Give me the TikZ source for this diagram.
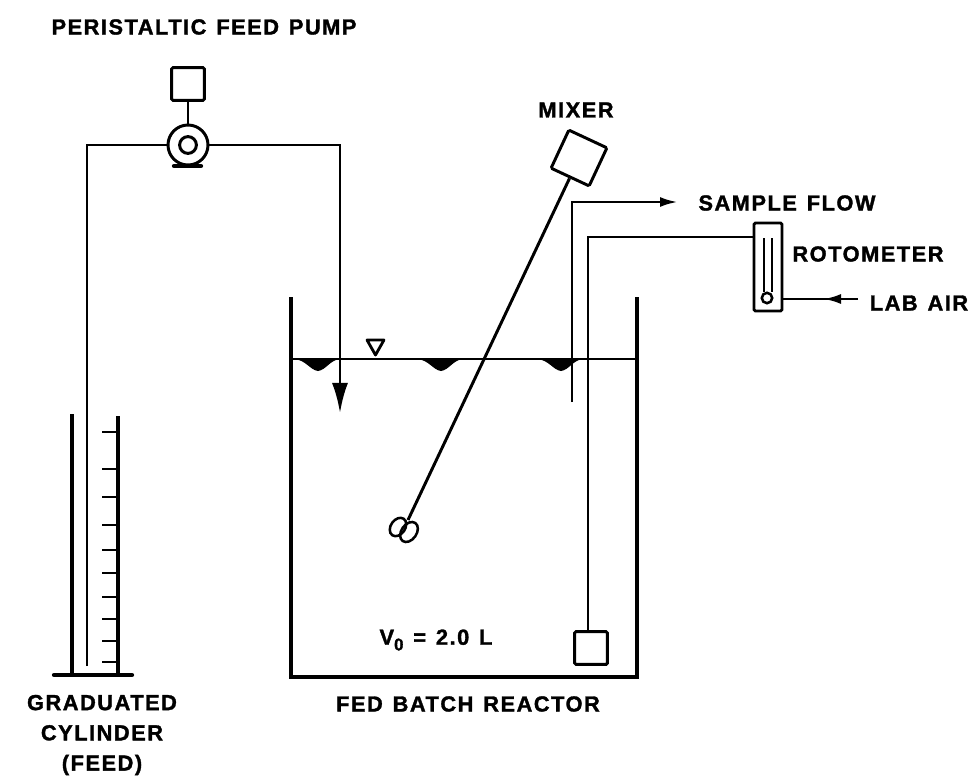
\documentclass[tikz,border=0pt]{standalone}
\usepackage{fontspec}
\setmainfont{Liberation Sans}[LetterSpace=7,WordSpace=1.3,BoldFeatures={FakeBold=1.5}]
\usetikzlibrary{arrows.meta,calc,positioning,shapes.geometric}

\begin{document}
\begin{tikzpicture}[
        x=0.025cm,
        y=-0.025cm,
        wire/.style={line width=2.1pt},
        wall/.style={line width=3pt},
        unitbox/.style={draw, line width=2.1pt, rounded corners=1pt, minimum size=0.82cm, inner sep=0pt},
        blade/.style={draw, ellipse, line width=1.8pt, inner sep=0pt, rotate=-35},
        label/.style={font=\bfseries\fontsize{15.5}{21.5}\selectfont, inner sep=0pt, align=center},
        bigtip/.tip={Latex[length=0.75cm,width=0.4cm]},
        smalltip/.tip={Latex[length=0.45cm,width=0.25cm]}
    ]
        \useasboundingbox (0,0) rectangle (973,776);

        % labels
        \node[label] (pumplabel) at (204,27) {PERISTALTIC FEED PUMP};
        \node[label] (mixerlabel) at (576,110) {MIXER};
        \node[label] (samplelabel) at (787,203) {SAMPLE FLOW};
        \node[label] (rotolabel) at (868,254) {ROTOMETER};
        \node[label] (airlabel) at (919,303) {LAB AIR};
        \node[label] (volume) at (436,640) {V\raisebox{-4pt}{\fontsize{12}{12}\selectfont 0} = 2.0 L};
        \node[label] (reactorlabel) at (468,704) {FED BATCH REACTOR};
        \node[label] (cylinderlabel) at (102,735) {GRADUATED\\CYLINDER\\(FEED)};

        % feed pump
        \node[draw, circle, line width=2.1pt, minimum size=1cm, inner sep=0pt] (pump) at (188,145) {};
        \node[draw, circle, line width=2.1pt, minimum size=0.42cm, inner sep=0pt] (pumpcore) at (pump.center) {};
        \node[unitbox] (motor) at (188,84) {};
        \draw[wire] (motor) -- (pump);
        \draw[wall, line cap=round] (174,166) -- (201,166);

        % cylinder
        \draw[wall] (72,414) -- (72,675);
        \draw[wall] (118,416) -- (118,675);
        \draw[wall, line cap=round] (54,675) -- (132,675);
        \foreach \tick in {432,469,497,525,550,573,597,619,641,662}
            \draw[wire] (102,\tick) -- (118,\tick);

        % feed line
        \coordinate (feedend) at (87,666);
        \coordinate (feedin) at (340,413);
        \draw[wire] (feedend) |- (pump);
        \draw[wire, -bigtip] (pump) -| (feedin);

        % reactor
        \draw[wall] (291,297) -- (291,677) -- (637,677) -- (637,297);
        \draw[wire] (291,359) -- (637,359);
        \foreach \dip in {318,441,561}
            \fill (\dip-24,359) .. controls (\dip-12,360) and (\dip-8,370) .. (\dip,371)
                .. controls (\dip+8,370) and (\dip+12,360) .. (\dip+22,359) -- cycle;
        \draw[line width=2pt, line join=round] (367,340) -- (384,340) -- (375.5,355) -- cycle;

        % mixer
        \node[unitbox, minimum size=1.05cm, rotate=-25] (mixer) at (579,158) {};
        \node[blade, minimum width=0.36cm, minimum height=0.5cm] (bladea) at (398,527) {};
        \node[blade, minimum width=0.38cm, minimum height=0.55cm] (bladeb) at (409,532) {};
        \coordinate (shaftend) at (408,520);
        \draw[wire] (mixer.south) -- (shaftend);

        % sample and air lines
        \coordinate (samplein) at (572,402);
        \coordinate (sampleout) at (678,202);
        \draw[wire, -smalltip] (samplein) |- (sampleout);
        \node[unitbox] (sparger) at (591,648) {};
        \node[draw, line width=2.1pt, rounded corners=1pt, minimum width=0.7cm, minimum height=2.2cm, inner sep=0pt] (rotameter) at (768,267) {};
        \node[draw, circle, line width=1.8pt, minimum size=0.26cm, inner sep=0pt] (bulb) at (767,298) {};
        \draw[line width=1.6pt] (764,238) -- (764,292);
        \draw[line width=1.6pt] (772,238) -- (772,292);
        \coordinate (spargerin) at (588,631);
        \coordinate (airbend) at (588,237);
        \draw[wire] (spargerin) -- (airbend) -- (rotameter.west |- airbend);
        \coordinate (airin) at (858,299);
        \coordinate (airtip) at (823,299);
        \coordinate (airbase) at (835,299);
        \draw[wire] (airbase) -- (rotameter.east |- airin);
        \draw[wire, -smalltip] (airin) -- (airtip);
\end{tikzpicture}
\end{document}
